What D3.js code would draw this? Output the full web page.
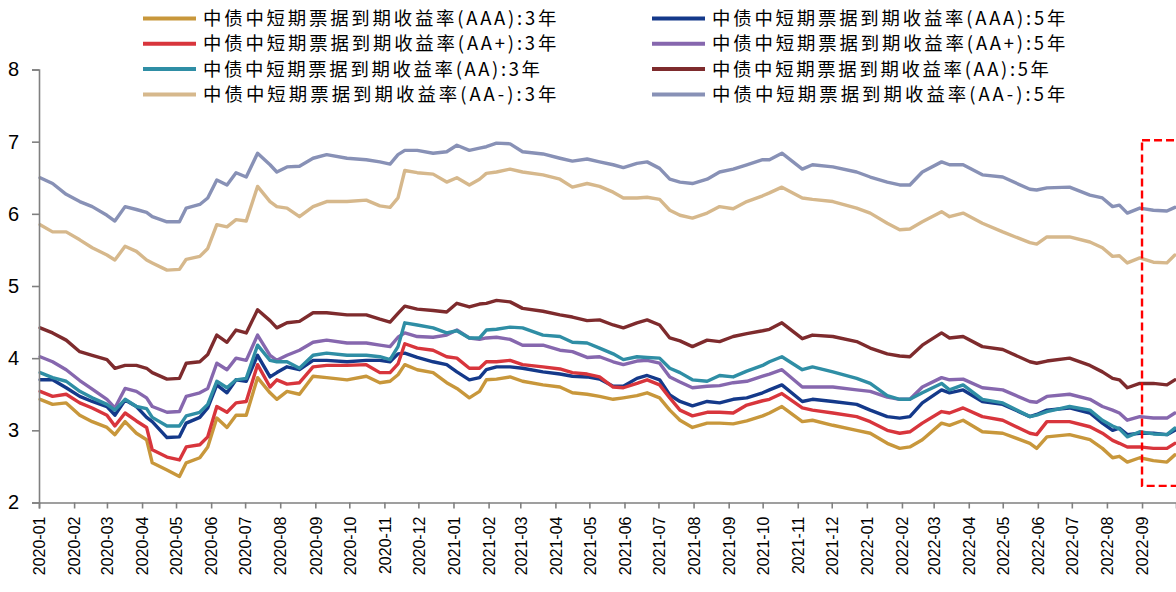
<!DOCTYPE html>
<html><head><meta charset="utf-8">
<script src="https://cdn.jsdelivr.net/npm/d3@7"></script>
<style>html,body{margin:0;padding:0;background:#fff;}svg{display:block;}</style>
</head><body><svg id="chart" width="1176" height="592"></svg>
<script>
const dates = ["2020-01-02","2020-01-13","2020-01-25","2020-02-06","2020-02-17","2020-03-01","2020-03-08","2020-03-17","2020-03-27","2020-04-05","2020-04-10","2020-04-23","2020-05-04","2020-05-10","2020-05-22","2020-05-29","2020-06-06","2020-06-15","2020-06-23","2020-07-02","2020-07-12","2020-07-23","2020-07-29","2020-08-07","2020-08-18","2020-08-30","2020-09-11","2020-09-29","2020-10-16","2020-10-28","2020-11-06","2020-11-13","2020-11-19","2020-11-30","2020-12-14","2020-12-26","2021-01-04","2021-01-15","2021-01-24","2021-01-30","2021-02-08","2021-02-20","2021-03-03","2021-03-21","2021-04-05","2021-04-16","2021-04-29","2021-05-10","2021-05-22","2021-05-31","2021-06-12","2021-06-21","2021-07-02","2021-07-11","2021-07-20","2021-07-31","2021-08-13","2021-08-24","2021-09-05","2021-09-17","2021-10-01","2021-10-07","2021-10-18","2021-11-05","2021-11-14","2021-12-02","2021-12-23","2022-01-04","2022-01-19","2022-01-30","2022-02-08","2022-02-19","2022-03-08","2022-03-15","2022-03-27","2022-04-13","2022-05-01","2022-05-25","2022-05-31","2022-06-09","2022-06-29","2022-07-17","2022-07-28","2022-08-06","2022-08-12","2022-08-19","2022-08-30","2022-09-11","2022-09-23","2022-09-30"];

const aaa3 = [3.43,3.36,3.38,3.21,3.12,3.04,2.94,3.12,2.96,2.87,2.55,2.45,2.36,2.55,2.62,2.77,3.17,3.04,3.21,3.21,3.73,3.52,3.43,3.54,3.50,3.75,3.73,3.70,3.75,3.66,3.68,3.77,3.91,3.84,3.80,3.66,3.58,3.45,3.54,3.70,3.71,3.74,3.68,3.63,3.60,3.52,3.50,3.47,3.43,3.45,3.48,3.52,3.45,3.28,3.14,3.04,3.10,3.10,3.09,3.13,3.20,3.24,3.33,3.12,3.14,3.07,3.00,2.96,2.82,2.75,2.77,2.87,3.10,3.07,3.14,2.98,2.96,2.82,2.75,2.91,2.94,2.87,2.75,2.62,2.64,2.56,2.62,2.58,2.56,2.66];
const aaa5 = [3.70,3.70,3.59,3.47,3.40,3.33,3.21,3.42,3.33,3.18,3.12,2.90,2.91,3.10,3.18,3.31,3.63,3.52,3.70,3.68,4.04,3.74,3.80,3.88,3.84,3.97,3.97,3.95,3.97,3.97,3.95,4.06,4.07,4.01,3.95,3.91,3.81,3.70,3.73,3.84,3.88,3.88,3.86,3.81,3.78,3.75,3.74,3.71,3.61,3.61,3.72,3.76,3.70,3.49,3.40,3.34,3.40,3.38,3.43,3.45,3.52,3.56,3.63,3.40,3.43,3.40,3.36,3.28,3.19,3.17,3.19,3.38,3.56,3.52,3.56,3.40,3.36,3.19,3.22,3.28,3.31,3.24,3.10,3.00,3.03,2.94,2.96,2.96,2.94,3.00];
const aap3 = [3.54,3.47,3.50,3.38,3.31,3.21,3.06,3.24,3.13,3.04,2.73,2.63,2.59,2.77,2.80,2.91,3.33,3.25,3.38,3.40,3.91,3.60,3.70,3.64,3.66,3.88,3.90,3.90,3.91,3.80,3.80,3.92,4.20,4.14,4.11,4.02,4.00,3.86,3.86,3.95,3.95,3.97,3.91,3.88,3.85,3.80,3.78,3.74,3.60,3.59,3.65,3.70,3.63,3.45,3.28,3.20,3.25,3.25,3.24,3.35,3.41,3.43,3.51,3.31,3.28,3.24,3.19,3.12,3.00,2.96,2.98,3.10,3.26,3.24,3.31,3.19,3.14,2.96,2.94,3.12,3.12,3.05,2.96,2.86,2.82,2.77,2.77,2.75,2.75,2.82];
const aap5 = [4.02,3.95,3.84,3.69,3.57,3.43,3.31,3.58,3.54,3.45,3.33,3.25,3.26,3.47,3.52,3.58,3.93,3.84,4.00,3.97,4.32,4.04,3.97,4.04,4.11,4.22,4.25,4.21,4.21,4.18,4.16,4.29,4.35,4.30,4.29,4.32,4.39,4.28,4.26,4.28,4.29,4.26,4.18,4.18,4.11,4.09,4.01,4.02,3.95,3.91,3.96,3.97,3.93,3.74,3.67,3.59,3.61,3.62,3.66,3.68,3.75,3.78,3.84,3.60,3.60,3.60,3.56,3.54,3.46,3.43,3.43,3.60,3.73,3.70,3.71,3.59,3.56,3.40,3.39,3.47,3.50,3.43,3.33,3.28,3.24,3.14,3.19,3.17,3.17,3.24];
const aa3 = [3.80,3.73,3.68,3.54,3.45,3.36,3.28,3.43,3.33,3.30,3.18,3.06,3.06,3.20,3.25,3.36,3.68,3.59,3.70,3.72,4.18,3.97,3.95,3.95,3.86,4.04,4.07,4.04,4.04,4.02,3.98,4.16,4.49,4.46,4.42,4.35,4.38,4.28,4.28,4.39,4.40,4.43,4.42,4.32,4.30,4.22,4.21,4.14,4.06,3.98,4.02,4.01,4.00,3.86,3.80,3.70,3.68,3.76,3.74,3.82,3.90,3.95,4.02,3.84,3.88,3.81,3.72,3.65,3.48,3.43,3.43,3.52,3.65,3.56,3.63,3.43,3.38,3.19,3.21,3.26,3.33,3.28,3.14,3.06,3.02,2.91,2.98,2.95,2.94,3.03];
const aa5 = [4.42,4.35,4.25,4.09,4.04,3.98,3.86,3.90,3.90,3.86,3.80,3.71,3.72,3.93,3.95,4.05,4.32,4.22,4.39,4.35,4.67,4.52,4.42,4.49,4.51,4.63,4.63,4.60,4.60,4.54,4.50,4.62,4.72,4.68,4.66,4.64,4.76,4.71,4.75,4.76,4.80,4.78,4.69,4.65,4.60,4.57,4.52,4.53,4.46,4.42,4.49,4.53,4.46,4.28,4.24,4.16,4.25,4.23,4.30,4.34,4.38,4.40,4.49,4.27,4.32,4.30,4.23,4.14,4.06,4.03,4.02,4.18,4.35,4.28,4.30,4.16,4.12,3.95,3.93,3.96,4.00,3.90,3.81,3.72,3.70,3.59,3.65,3.65,3.63,3.70];
const aam3 = [5.85,5.75,5.75,5.64,5.53,5.43,5.36,5.55,5.48,5.36,5.32,5.22,5.23,5.37,5.41,5.52,5.85,5.82,5.92,5.90,6.38,6.17,6.10,6.08,5.96,6.10,6.17,6.17,6.19,6.11,6.09,6.22,6.60,6.57,6.55,6.44,6.50,6.40,6.48,6.56,6.58,6.62,6.58,6.54,6.48,6.37,6.42,6.38,6.30,6.22,6.22,6.23,6.20,6.05,5.98,5.94,6.01,6.10,6.07,6.17,6.25,6.29,6.37,6.22,6.20,6.17,6.08,6.01,5.87,5.78,5.79,5.89,6.03,5.96,6.01,5.87,5.75,5.60,5.58,5.68,5.68,5.61,5.53,5.41,5.42,5.32,5.39,5.33,5.32,5.43];
const aam5 = [6.50,6.42,6.27,6.17,6.10,5.98,5.90,6.10,6.06,6.02,5.96,5.89,5.89,6.08,6.13,6.22,6.47,6.40,6.57,6.51,6.84,6.68,6.58,6.65,6.66,6.77,6.82,6.77,6.75,6.72,6.69,6.82,6.88,6.88,6.84,6.86,6.95,6.88,6.91,6.93,6.98,6.97,6.86,6.83,6.77,6.73,6.76,6.72,6.68,6.64,6.70,6.72,6.63,6.48,6.44,6.42,6.48,6.58,6.62,6.68,6.75,6.75,6.84,6.62,6.68,6.65,6.58,6.51,6.44,6.40,6.40,6.58,6.72,6.68,6.68,6.54,6.51,6.34,6.33,6.36,6.37,6.26,6.22,6.10,6.12,6.01,6.08,6.05,6.04,6.09];

const seriesNames = [
  "中债中短期票据到期收益率(AAA):3年",
  "中债中短期票据到期收益率(AAA):5年",
  "中债中短期票据到期收益率(AA+):3年",
  "中债中短期票据到期收益率(AA+):5年",
  "中债中短期票据到期收益率(AA):3年",
  "中债中短期票据到期收益率(AA):5年",
  "中债中短期票据到期收益率(AA-):3年",
  "中债中短期票据到期收益率(AA-):5年"
];
const seriesValues = [aaa3, aaa5, aap3, aap5, aa3, aa5, aam3, aam5];
const seriesColors = ["#C8973B", "#14398A", "#D8353C", "#8667AE", "#2F8EA5", "#7E2B2D", "#D6B88C", "#8891B6"];
const yTicks = [2, 3, 4, 5, 6, 7, 8];
const xDomain = ["2020-01-01", "2022-10-01"];
const xTickRange = ["2020-01-01", "2022-09-02"];
const annotBox = { dates: ["2022-09-01", "2022-10-20"], values: [7.02, 2.23] };

const parse = d3.timeParse("%Y-%m-%d");
const svg = d3.select("#chart");
const L = 39, R = 1176, T = 69.5, B = 502.5;

const x = d3.scaleTime().domain(xDomain.map(parse)).range([L, R]);
const y = d3.scaleLinear().domain([2, 8]).range([B, T]);

// lines
const line = d3.line().x(d => x(d[0])).y(d => y(d[1])).curve(d3.curveLinear);
const parsedDates = dates.map(parse);
seriesValues.forEach((vals, i) => {
  svg.append("path")
    .datum(vals.map((v, j) => [parsedDates[j], v]))
    .attr("fill", "none")
    .attr("stroke", seriesColors[i])
    .attr("stroke-width", 3.4)
    .attr("stroke-linejoin", "round")
    .attr("stroke-linecap", "round")
    .attr("d", line);
});

// y axis
const yAxis = d3.axisLeft(y).tickValues(yTicks).tickFormat(d3.format("d")).tickSize(7).tickPadding(13);
const gy = svg.append("g").attr("transform", `translate(${L},0)`).call(yAxis);
gy.select(".domain").attr("stroke", "#808080").attr("stroke-width", 1.6);
gy.selectAll(".tick line").attr("stroke", "#808080").attr("stroke-width", 1.6);
gy.selectAll(".tick text").attr("font-family", "'Liberation Sans', Arial, sans-serif").attr("font-size", 20).attr("fill", "#000");

// x axis
const monthTicks = d3.timeMonth.range(parse(xTickRange[0]), parse(xTickRange[1]));
const xAxis = d3.axisBottom(x).tickValues(monthTicks).tickFormat(d3.timeFormat("%Y-%m")).tickSize(6);
const gx = svg.append("g").attr("transform", `translate(0,${B})`).call(xAxis);
gx.select(".domain").attr("stroke", "#808080").attr("stroke-width", 1.6);
gx.selectAll(".tick line").attr("stroke", "#808080").attr("stroke-width", 1.6);
gx.selectAll(".tick text")
  .attr("font-family", "'Liberation Sans', Arial, sans-serif")
  .attr("font-size", 16)
  .attr("fill", "#000")
  .attr("text-anchor", "end")
  .attr("transform", "rotate(-90)")
  .attr("x", -14)
  .attr("y", 0)
  .attr("dy", "0.36em");

// annotation dashed box
svg.append("rect")
  .attr("x", x(parse(annotBox.dates[0])))
  .attr("y", y(annotBox.values[0]))
  .attr("width", x(parse(annotBox.dates[1])) - x(parse(annotBox.dates[0])))
  .attr("height", y(annotBox.values[1]) - y(annotBox.values[0]))
  .attr("fill", "none")
  .attr("stroke", "#FF0000")
  .attr("stroke-width", 2.4)
  .attr("stroke-dasharray", "8,4");

// legend
const legendOrder = [0, 2, 4, 6, 1, 3, 5, 7];
legendOrder.forEach((si, k) => {
  const col = k < 4 ? 0 : 1;
  const row = k % 4;
  const lx = col === 0 ? 143 : 652;
  const ly = 18.5 + row * 25.3;
  const g = svg.append("g");
  g.append("line").attr("x1", lx).attr("x2", lx + 53).attr("y1", ly).attr("y2", ly)
    .attr("stroke", seriesColors[si]).attr("stroke-width", 4);
  const name = seriesNames[si];
  const latinCount = name.length - 13;
  g.append("text").attr("x", lx + 60).attr("y", ly).attr("dy", "0.36em")
    .attr("font-family", "'Noto Sans CJK SC', sans-serif")
    .attr("font-size", 18.4)
    .attr("fill", "#000")
    .attr("textLength", 13 * 18.4 + latinCount * 16.3)
    .attr("lengthAdjust", "spacing")
    .text(name);
});
</script>
</body></html>
